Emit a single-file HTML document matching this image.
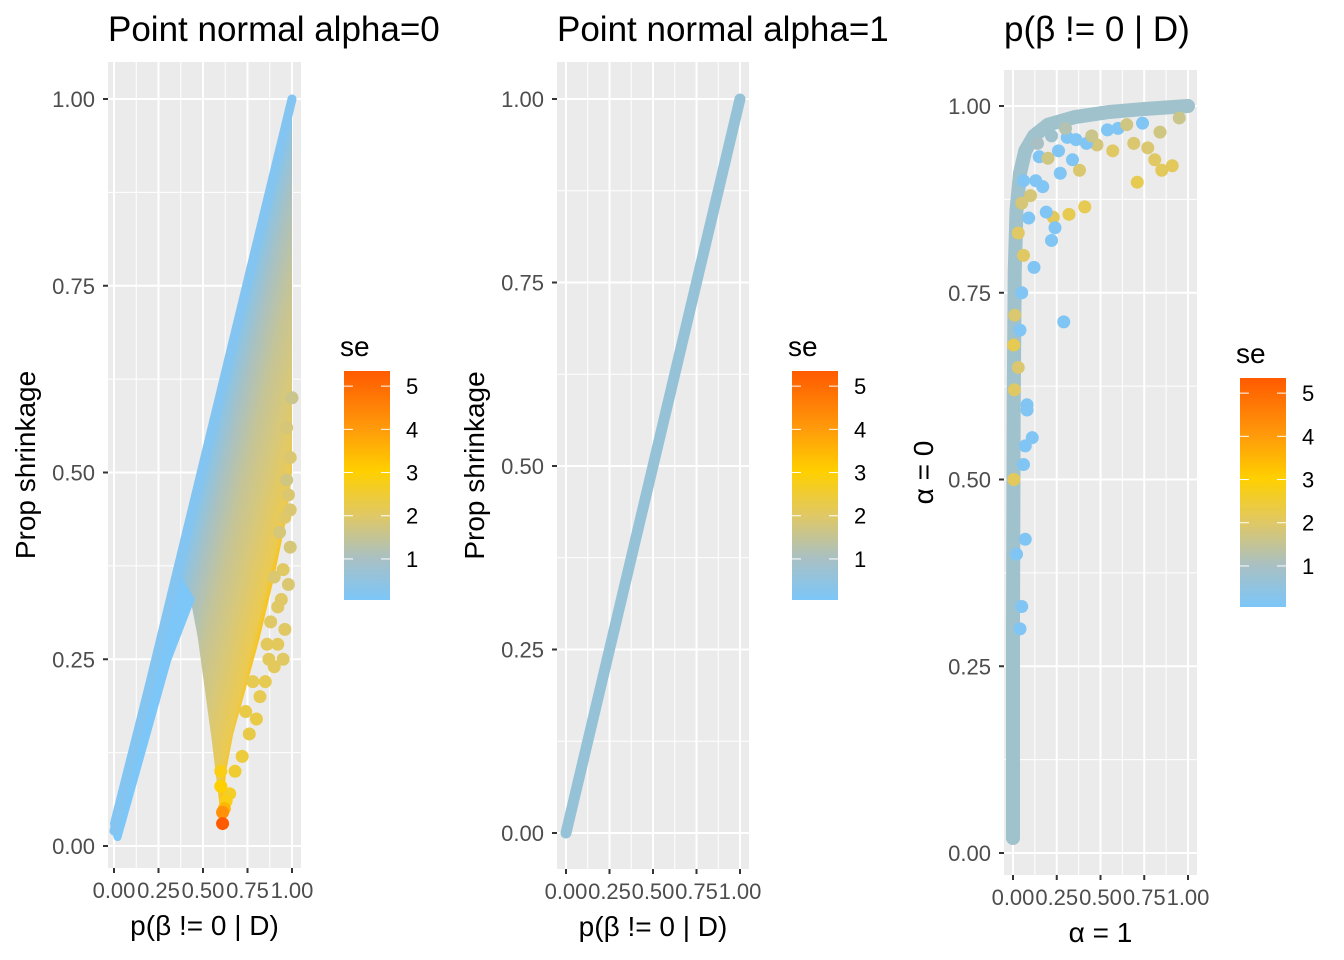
<!DOCTYPE html>
<html><head><meta charset="utf-8"><style>
html,body{margin:0;padding:0;background:#fff;}
svg{display:block;font-family:"Liberation Sans",sans-serif;}
</style></head><body>
<svg id="chart" width="1344" height="960" viewBox="0 0 1344 960">
<defs>
<linearGradient id="legGrad" x1="0" y1="1" x2="0" y2="0">
<stop offset="0" stop-color="#7cc6f8"/><stop offset="0.18" stop-color="#a8c0c4"/>
<stop offset="0.37" stop-color="#e0c865"/><stop offset="0.56" stop-color="#ffd000"/>
<stop offset="0.75" stop-color="#ff9a0a"/><stop offset="1" stop-color="#ff5a00"/>
</linearGradient>
</defs>
</svg>
<script>
// ---------- data ----------
const p1Wedge_x=[0.0,0.35,1.0,1.0,0.97,0.9,0.82,0.74,0.67,0.63,0.615,0.6,0.58,0.55,0.51,0.47,0.43];
const p1Wedge_y=[0.02,0.36,1.0,0.5,0.44,0.36,0.28,0.21,0.15,0.1,0.05,0.04,0.08,0.14,0.21,0.28,0.33];
const p1Band_x=[0.0,0.02,0.30,0.43,0.35];
const p1Band_y=[0.03,0.012,0.25,0.33,0.36];
const p1Pts_x=[0.97,0.99,0.98,0.96,0.99,0.98,0.94,0.96,0.92,0.95,0.9,0.87,0.85,0.82,0.8,0.76,0.72,0.68,0.65,0.63,0.62,0.61,0.61,0.6,0.6,0.88,0.9,0.93,0.97,1.0,0.99,0.95,0.92,0.86,0.78,0.74];
const p1Pts_y=[0.56,0.52,0.47,0.44,0.40,0.35,0.33,0.29,0.27,0.25,0.24,0.25,0.22,0.2,0.17,0.15,0.12,0.10,0.07,0.06,0.05,0.045,0.03,0.08,0.1,0.3,0.36,0.42,0.49,0.6,0.45,0.37,0.32,0.27,0.22,0.18];
const p1Pts_se=[1.8,1.9,1.9,2,1.8,1.9,2,2,2.1,2,2.1,2.1,2.2,2.2,2.3,2.3,2.4,2.5,2.6,2.8,3.5,4.2,5.3,3,2.8,2.0,1.9,1.8,1.7,1.6,1.9,2,2,2.1,2.2,2.3];
const p2Line_x=[0,0.25,0.5,0.75,1];
const p2Line_y=[0,0.25,0.5,0.75,1];
const p3Curve_x=[0.0,0.0,0.004,0.01,0.02,0.04,0.07,0.12,0.2,0.35,0.55,0.75,1.0];
const p3Curve_y=[0.02,0.3,0.6,0.78,0.86,0.91,0.94,0.96,0.975,0.985,0.992,0.996,1.0];
const p3Pts_x=[0.57,0.69,0.77,0.81,0.85,0.91,0.71,0.41,0.32,0.23,0.38,0.48,0.84,0.95,0.29,0.22,0.24,0.19,0.12,0.11,0.08,0.27,0.34,0.42,0.54,0.74,0.17,0.15,0.31,0.07,0.05,0.04,0.06,0.07,0.08,0.005,0.008,0.004,0.01,0.03,0.05,0.02,0.1,0.13,0.2,0.26,0.36,0.45,0.6,0.65,0.09,0.06,0.04,0.03,0.14,0.22,0.3,0.05,0.06];
const p3Pts_y=[0.94,0.95,0.944,0.928,0.914,0.92,0.898,0.865,0.855,0.851,0.914,0.948,0.965,0.984,0.711,0.82,0.837,0.858,0.784,0.556,0.593,0.91,0.928,0.95,0.968,0.977,0.892,0.932,0.958,0.42,0.33,0.30,0.52,0.545,0.6,0.5,0.62,0.68,0.72,0.83,0.75,0.4,0.88,0.9,0.93,0.94,0.955,0.96,0.97,0.975,0.85,0.8,0.7,0.65,0.95,0.96,0.97,0.87,0.9];
const p3Pts_se=[2,1.9,1.9,2,2.1,2.1,2.2,2.2,2.2,2.1,1.9,1.8,1.7,1.6,0.1,0.1,0.1,0.1,0.1,0.1,0.1,0.1,0.1,0.1,0.1,0.1,0.1,0.1,0.1,0.1,0.1,0.1,0.1,0.1,0.1,2.1,2.0,2.2,1.9,2.0,0.1,0.1,1.8,0.1,1.7,0.1,0.1,1.6,0.1,1.7,0.1,2.0,0.1,1.9,1.0,0.8,1.2,1.8,0.1];
const tickVals=[0,0.25,0.5,0.75,1];
const tickLabels=["0.00","0.25","0.50","0.75","1.00"];
const legVals=[1,2,3,4,5];
// ---------- helpers ----------
const svg=document.getElementById('chart');
const NS='http://www.w3.org/2000/svg';
function mk(tag,attrs,parent){const e=document.createElementNS(NS,tag);for(const k in attrs)e.setAttribute(k,attrs[k]);(parent||svg).appendChild(e);return e;}
const stops=[[0,[124,198,248]],[1,[168,192,196]],[2,[224,200,101]],[3,[255,208,0]],[4,[255,154,10]],[5.3,[255,90,0]]];
function seColor(v){for(let i=1;i<stops.length;i++){if(v<=stops[i][0]){const a=stops[i-1],b=stops[i];const t=(v-a[0])/(b[0]-a[0]);const c=a[1].map((x,j)=>Math.round(x+(b[1][j]-x)*t));return `rgb(${c})`;}}return 'rgb(255,90,0)';}
function panel(P){
  const g=mk('g',{});
  
  
  const X=v=>P.x0+(P.x1-P.x0)*v, Y=v=>P.y0-(P.y0-P.y1)*v;
  const bg=mk('rect',{x:P.L,y:P.T,width:P.R-P.L,height:P.B-P.T,fill:'#ebebeb'},g);
  
  for(let i=0;i<4;i++){const m=tickVals[i]+0.125;
    mk('line',{x1:X(m),x2:X(m),y1:P.T,y2:P.B,stroke:'#fff','stroke-width':1},g);
    mk('line',{x1:P.L,x2:P.R,y1:Y(m),y2:Y(m),stroke:'#fff','stroke-width':1},g);}
  tickVals.forEach((v,i)=>{
    mk('line',{x1:X(v),x2:X(v),y1:P.T,y2:P.B,stroke:'#fff','stroke-width':2},g);
    mk('line',{x1:P.L,x2:P.R,y1:Y(v),y2:Y(v),stroke:'#fff','stroke-width':2},g);
    mk('line',{x1:X(v),x2:X(v),y1:P.B,y2:P.B+5,stroke:'#333','stroke-width':2},g);
    mk('line',{x1:P.L-5,x2:P.L,y1:Y(v),y2:Y(v),stroke:'#333','stroke-width':2},g);
    const tx=mk('text',{x:X(v),y:P.B+30,'font-size':22,fill:'#4d4d4d','text-anchor':'middle'},g);tx.textContent=tickLabels[i];
    
    const ty=mk('text',{x:P.L-13,y:Y(v)+8,'font-size':22,fill:'#4d4d4d','text-anchor':'end'},g);ty.textContent=tickLabels[i];
    
  });
  const t=mk('text',{x:P.L,y:41,'font-size':35,fill:'#000'},g);t.textContent=P.title;
  
  const xt=mk('text',{x:(P.L+P.R)/2,y:P.B+67,'font-size':28,fill:'#000','text-anchor':'middle'},g);xt.textContent=P.xlab;
  
  const yt=mk('text',{x:0,y:0,'font-size':28,fill:'#000','text-anchor':'middle',transform:`translate(${P.ylx},${(P.T+P.B)/2}) rotate(-90)`},g);yt.textContent=P.ylab;
  
  // legend
  const lg=mk('g',{},g);
  
  const lt=mk('text',{x:P.lx-4,y:P.lt-15,'font-size':28,fill:'#000'},lg);lt.textContent='se';
  mk('rect',{x:P.lx,y:P.lt,width:46,height:229,fill:'url(#legGrad)'},lg);
  const LY=v=>P.lt+229-(v-0.05)/(5.35-0.05)*229;
  legVals.forEach(v=>{
    mk('line',{x1:P.lx,x2:P.lx+9,y1:LY(v),y2:LY(v),stroke:'#fff','stroke-width':1},lg);
    mk('line',{x1:P.lx+37,x2:P.lx+46,y1:LY(v),y2:LY(v),stroke:'#fff','stroke-width':1},lg);
    const l=mk('text',{x:P.lx+62,y:LY(v)+8,'font-size':22,fill:'#000'},lg);l.textContent=String(v);
  });
  return {g,X,Y};
}
// ---------- panel 1 ----------
{
const P={name:'panel-alpha0',L:108,R:301,T:62,B:868,x0:114,x1:292,y0:846,y1:99,title:'Point normal alpha=0',xlab:'p(β != 0 | D)',ylab:'Prop shrinkage',ylx:35,lx:344,lt:371};
const {g,X,Y}=panel(P);
const gx=X(0.6),gy=Y(0.608);
const gr=mk('linearGradient',{id:'wedgeGrad',gradientUnits:'userSpaceOnUse',x1:gx,y1:gy,x2:gx+0.972*105,y2:gy+0.232*105},svg.querySelector('defs'));
[[0,'#7cc6f8'],[0.06,'#8cc4e4'],[0.2,'#a8c1c2'],[0.4,'#c4c498'],[0.62,'#d8c878'],[0.85,'#ecca50'],[0.93,'#ffc000'],[1,'#ff6a00']].forEach(s=>mk('stop',{offset:s[0],'stop-color':s[1]},gr));
const w=mk('polygon',{points:p1Wedge_x.map((x,i)=>X(x)+','+Y(p1Wedge_y[i])).join(' '),fill:'url(#wedgeGrad)'},g);

const b=mk('polygon',{points:p1Band_x.map((x,i)=>X(x)+','+Y(p1Band_y[i])).join(' '),fill:'#7cc6f8',stroke:'#7cc6f8','stroke-width':8,'stroke-linejoin':'round'},g);

const ul=mk('line',{x1:X(0),y1:Y(0.02),x2:X(1),y2:Y(1),stroke:'#84c4f0','stroke-width':9,'stroke-linecap':'round'},g);

p1Pts_x.forEach((x,i)=>{const c=mk('circle',{cx:X(x),cy:Y(p1Pts_y[i]),r:6.5,fill:seColor(p1Pts_se[i])},g);
});
}
// ---------- panel 2 ----------
{
const P={name:'panel-alpha1',L:557,R:749,T:62,B:869,x0:566,x1:740,y0:833,y1:99,title:'Point normal alpha=1',xlab:'p(β != 0 | D)',ylab:'Prop shrinkage',ylx:484,lx:792,lt:371};
const {g,X,Y}=panel(P);
const l=mk('polyline',{points:p2Line_x.map((x,i)=>X(x)+','+Y(p2Line_y[i])).join(' '),fill:'none',stroke:'#96c2d8','stroke-width':11,'stroke-linecap':'round'},g);

}
// ---------- panel 3 ----------
{
const P={name:'panel-comparison',L:1004,R:1197,T:70,B:875,x0:1013,x1:1188,y0:853,y1:106,title:'p(β != 0 | D)',xlab:'α = 1',ylab:'α = 0',ylx:933,lx:1240,lt:378};
const {g,X,Y}=panel(P);
const c=mk('polyline',{points:p3Curve_x.map((x,i)=>X(x)+','+Y(p3Curve_y[i])).join(' '),fill:'none',stroke:'#9fc2cc','stroke-width':14,'stroke-linecap':'round','stroke-linejoin':'round'},g);

p3Pts_x.forEach((x,i)=>{const d=mk('circle',{cx:X(x),cy:Y(p3Pts_y[i]),r:6.5,fill:seColor(p3Pts_se[i])},g);
});
}
</script>
</body></html>
